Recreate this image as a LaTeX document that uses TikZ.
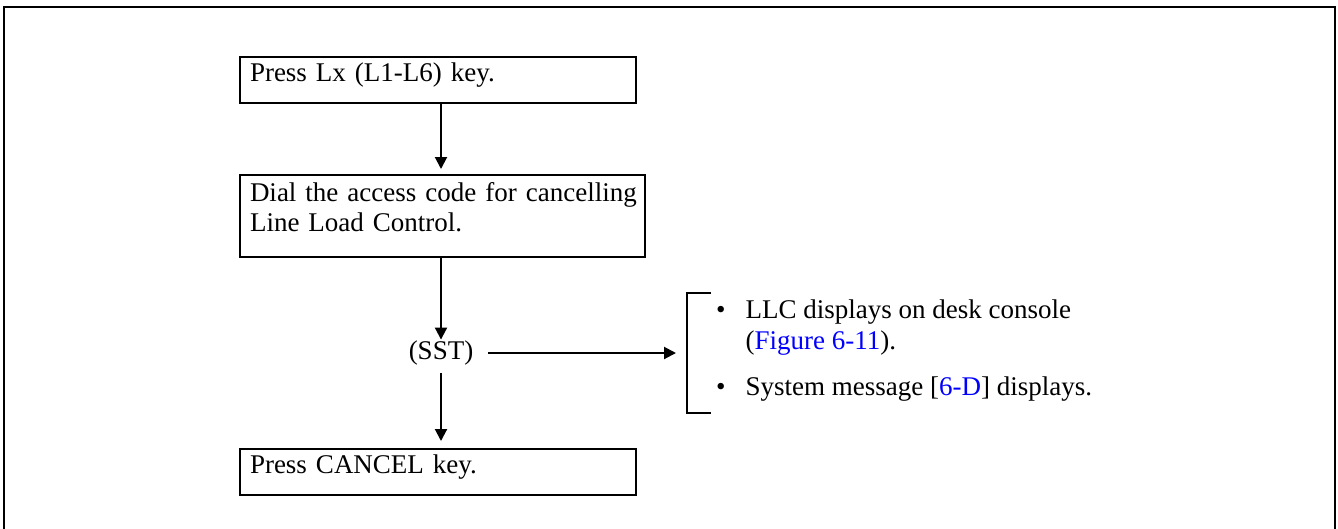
\documentclass[tikz,border=0pt]{standalone}
\usepackage{fontspec}
\setmainfont{Liberation Serif}
\usetikzlibrary{positioning,arrows.meta}
\definecolor{linkblue}{HTML}{0000FF}
\tikzset{
  stepbox/.style={rectangle, draw=black, line width=2pt, inner xsep=10pt, inner ysep=5pt,
                  align=left, anchor=north west},
  onebox/.style={stepbox, text height=19pt, text depth=17pt},
  twobox/.style={stepbox, text height=21pt, text depth=51pt},
  arr/.style={-{Triangle[length=12pt,width=12pt]}, line width=2pt},
  frame/.style={line width=2pt},
}

\begin{document}
\begin{tikzpicture}[x=1pt, y=-1pt, font=\fontsize{27}{30}\selectfont]
    \useasboundingbox (0,0) rectangle (1338,528);
    \draw[frame] (4,532) |- (1335,7) -- (1335,532);
    % steps
    \node[onebox, text width=376pt] (lx) at (239,56) {Press Lx (L1-L6) key.};
    \node[twobox, text width=385pt, below=70pt of lx.south west, anchor=north west] (dial)
      {\mbox{Dial the access code for cancelling}\\Line Load Control.};
    \node[inner sep=1pt] (sst) at (441,353) {(SST)};
    \node[onebox, text width=376pt, below=190pt of dial.south west, anchor=north west] (cancel)
      {Press CANCEL key.};
    % displays
    \node[anchor=base west, inner sep=0pt, font=\fontsize{27}{31}\selectfont] (msgs) at (716,318)
      {\begin{tabular}[t]{@{}l@{\hspace{20pt}}l@{}}
         \textbullet & LLC displays on desk console\\
                     & (\textcolor{linkblue}{Figure 6-11}).\\[15pt]
         \textbullet & System message [\textcolor{linkblue}{6-D}] displays.
       \end{tabular}};
    \coordinate (brk) at (687,353);
    \draw[frame] (711,293) -| (687,413) -- (711,413);
    \draw[arr, shorten >=5pt] (lx.south -| sst) -- (dial.north -| sst);
    \draw[arr] (dial.south -| sst) -- (sst.north);
    \draw[arr, shorten <=7pt, shorten >=7pt] (sst.south) -- (cancel.north -| sst);
    \draw[arr, shorten <=14pt, shorten >=11pt] (sst.east) -- (brk);
\end{tikzpicture}
\end{document}
